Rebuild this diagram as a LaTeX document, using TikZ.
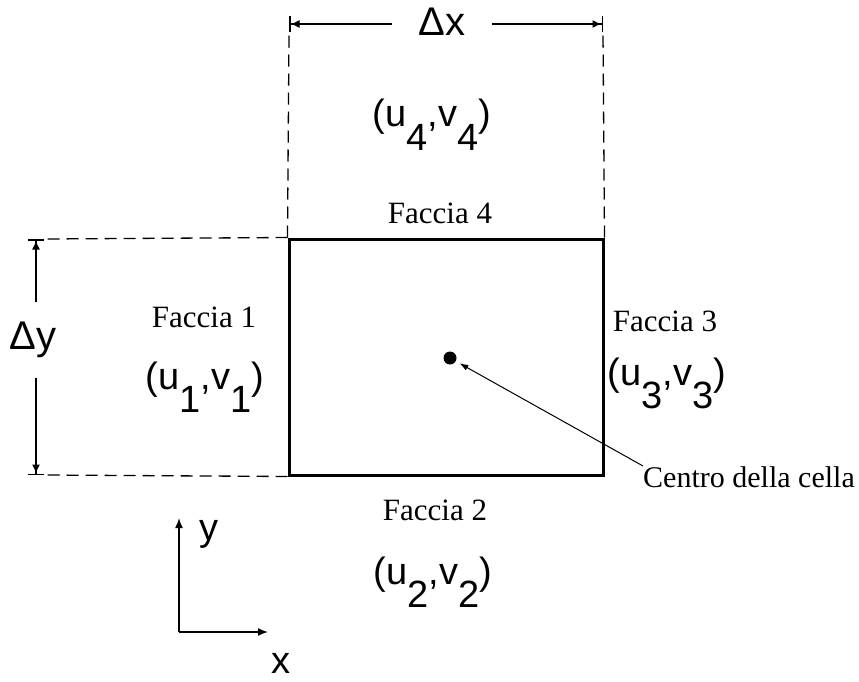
\documentclass[tikz,border=0pt]{standalone}
\usepackage{fontspec}
\setmainfont{Liberation Serif}
\setsansfont{Liberation Sans}
\usetikzlibrary{arrows.meta}
\newcommand{\vsub}[1]{\raisebox{-0.62em}{#1}}
\tikzset{
  faccia/.style={font=\fontsize{31}{36}\selectfont,inner sep=0pt,anchor=base},
  vel/.style={font=\sffamily\fontsize{38}{42}\selectfont,inner sep=0pt,anchor=base},
  dimlbl/.style={font=\sffamily\fontsize{40}{44}\selectfont,inner sep=0pt},
  ext/.style={dash pattern=on 12pt off 7pt,line width=1.3pt},
  dim/.style={line width=1.5pt,-{Latex[length=9pt,width=8pt]Bar[width=16pt,line width=1.5pt]}},
  axis/.style={line width=1.5pt,-{Latex[length=10pt,width=8pt]}}
}
\begin{document}
\begin{tikzpicture}[x=1pt,y=-1pt]
\useasboundingbox (0,0) rectangle (859,682);
% cella
\node[draw,line width=3pt,minimum width=314pt,minimum height=236pt,inner sep=0pt] (cell) at (446,357) {};
% quote
\coordinate (dxl) at (289,24);
\coordinate (dxr) at (603,24);
\node[dimlbl,minimum width=100pt] (dx) at (442,22) {Δx};
\draw[dim] (dx.west |- dxl) -- (dxl);
\draw[dim] (dx.east |- dxr) -- (dxr);
\coordinate (dyt) at (36,239);
\coordinate (dyb) at (36,475);
\node[dimlbl,minimum height=75pt] (dy) at (33,340) {Δy};
\draw[dim] (dy.north -| dyt) -- (dyt);
\draw[dim] (dy.south -| dyb) -- (dyb);
\draw[ext] (cell.north west) -- ([yshift=-9pt]dxl);
\draw[ext] (cell.north east) -- ([yshift=-9pt]dxr);
\draw[ext] (cell.north west) -- ([xshift=8pt]dyt);
\draw[ext] (cell.south west) -- ([xshift=8pt]dyb);
% facce
\node[vel] (v4) at (432,127) {(u\vsub{4},v\vsub{4})};
\node[faccia] (f4) at (440,223) {Faccia 4};
\node[faccia] (f1) at (204,327) {Faccia 1};
\node[vel] (v1) at (205,389) {(u\vsub{1},v\vsub{1})};
\node[faccia] (f3) at (665,331) {Faccia 3};
\node[vel] (v3) at (667,385) {(u\vsub{3},v\vsub{3})};
\node[faccia] (f2) at (435,520) {Faccia 2};
\node[vel] (v2) at (433,584) {(u\vsub{2},v\vsub{2})};
% centro
\node[circle,fill,inner sep=0pt,minimum size=13pt] (ctr) at (450,358) {};
\node[faccia,font=\fontsize{30}{34}\selectfont,anchor=base west] (lbl) at (643,487) {Centro della cella};
\draw[line width=1pt,-{Latex[length=9pt,width=6pt]},shorten >=4pt] (lbl.north west) -- (ctr);
% assi
\coordinate (o) at (179,632);
\coordinate (yt) at (179,518);
\coordinate (xt) at (268,632);
\draw[axis] (o) -- (yt);
\draw[axis] (o) -- (xt);
\node[vel] (ylbl) at (209,540) {y};
\node[vel] (xlbl) at (281,673) {x};
\end{tikzpicture}
\end{document}
